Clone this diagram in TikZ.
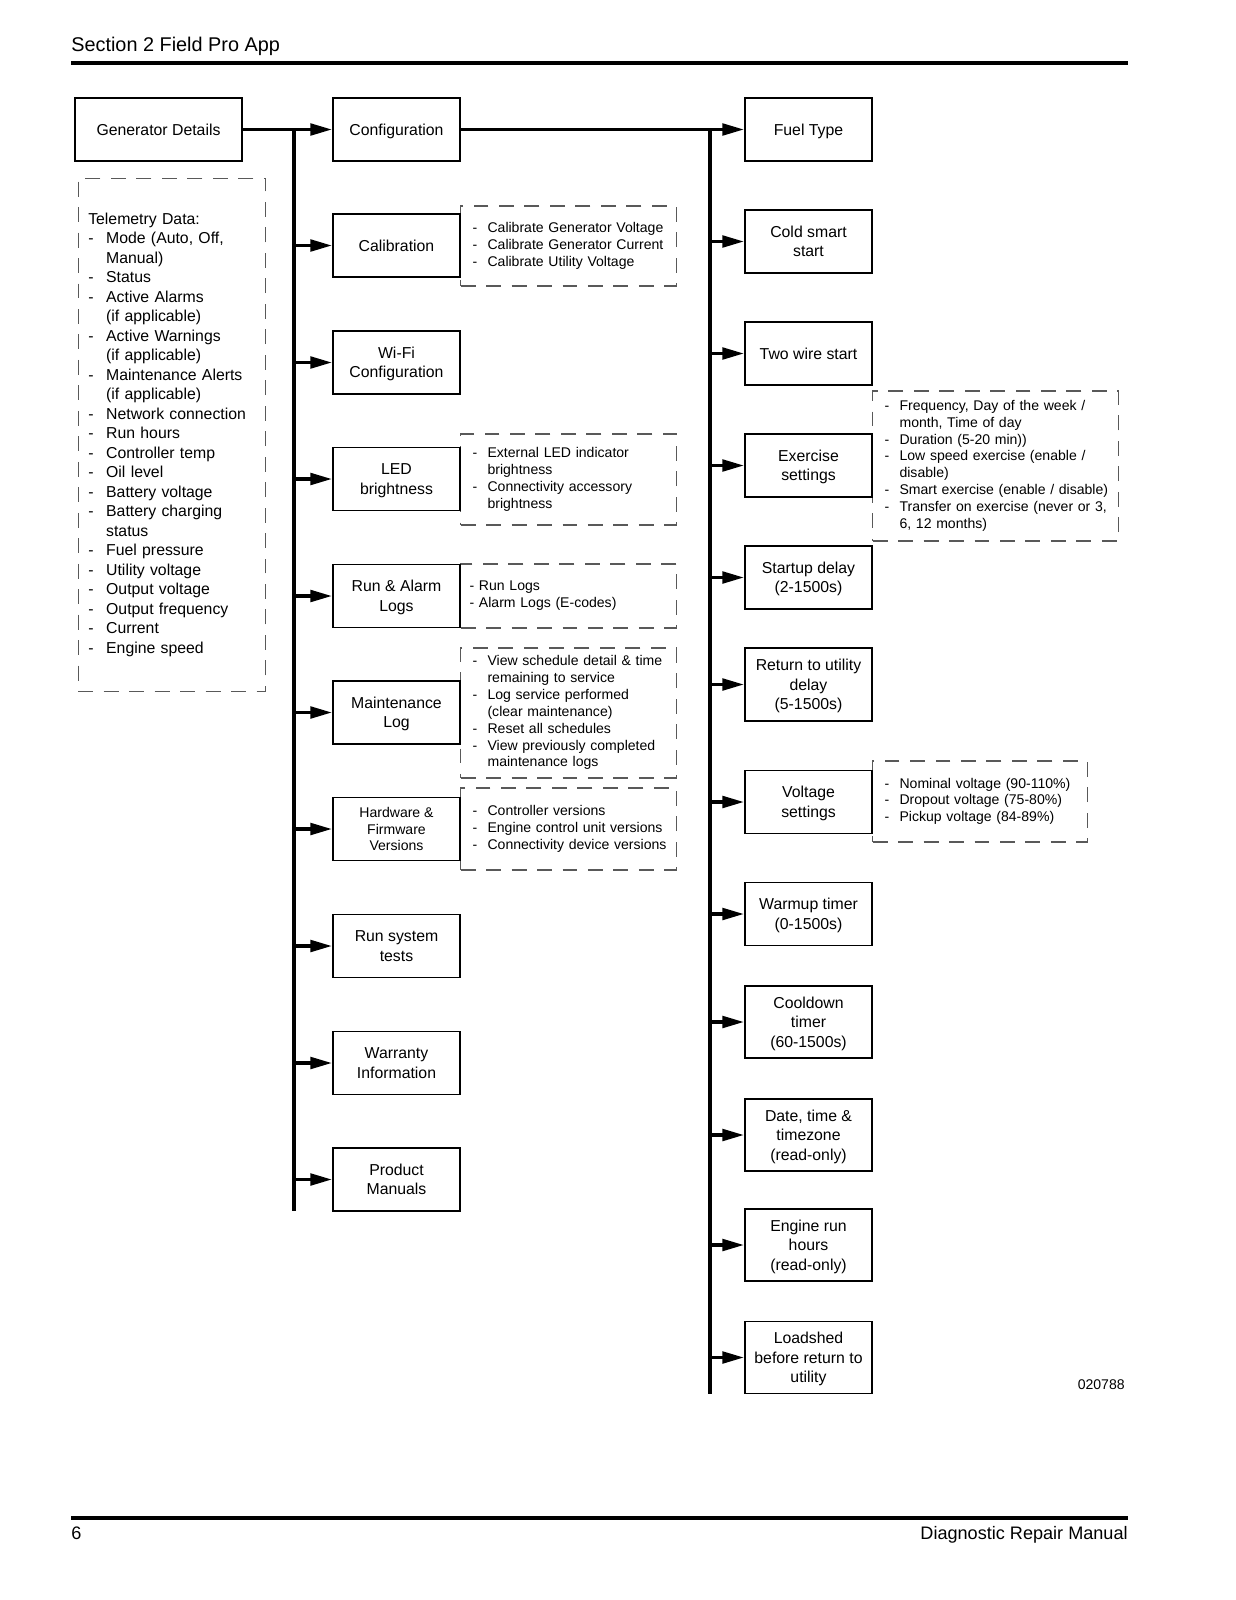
\documentclass[tikz,border=0pt]{standalone}
\usepackage{fontspec}
\setmainfont{Liberation Sans}
\usetikzlibrary{arrows.meta}
\setlength{\parindent}{0pt}
% dashed side notes: dash column plus text column
\newenvironment{dashlist}{\begin{tabular}{@{}p{8.5pt}@{}l@{}}}{\end{tabular}}

\begin{document}
\begin{tikzpicture}[x=0.02cm, y=-0.02cm,
  every node/.style={font=\fontsize{9}{11.1}\selectfont},
  box/.style={rectangle, draw, line width=0.8pt, fill=white, align=center,
    minimum width=2.54cm, minimum height=1.26cm, inner sep=1pt, text depth=0pt},
  tall/.style={minimum height=1.44cm},
  small/.style={font=\fontsize{8}{9.5}\selectfont},
  note/.style={rectangle, draw=black!65, line width=0.7pt, dash pattern=on 8.5pt off 6pt,
    align=left, inner xsep=0.24cm, inner ysep=0pt, font=\fontsize{8}{9.6}\selectfont},
  main/.style={line width=2.2pt},
  stub/.style={line width=2.2pt, -{Triangle[length=12.5pt, width=6.5pt]}},
  rule/.style={line width=1.8pt}]
  \path[use as bounding box, fill=white] (0,0) rectangle (1236,1600);
  % Page header and footer
  \node[anchor=base west, font=\fontsize{11.3}{13}\selectfont, inner sep=0pt] (title) at (71,51) {Section 2 Field Pro App};
  \draw[rule] (71,63) -- (1128,63);
  \draw[rule] (71,1518) -- (1128,1518);
  \node[anchor=base west, font=\fontsize{10.3}{12}\selectfont, inner sep=0pt] (pageno) at (71,1539) {6};
  \node[anchor=base east, font=\fontsize{10.3}{12}\selectfont, inner sep=0pt] (manual) at (1128,1539) {Diagnostic Repair Manual};
  \node[anchor=east, font=\fontsize{8}{9.6}\selectfont, inner sep=0pt] (figno) at (1125,1385) {020788};

  % Dashed notes (drawn first so the boxes sit on top of them)
  \node[note, font=\fontsize{9}{11.1}\selectfont, inner xsep=0.2cm, text width=3.35cm, minimum height=10.27cm] (telem) at (172,435)
    {\begin{tabular}{@{}p{10.2pt}@{}l@{}}
      \multicolumn{2}{@{}l@{}}{Telemetry Data:}\\
      - & Mode (Auto, Off,\\ & Manual)\\
      - & Status\\
      - & Active Alarms\\ & (if applicable)\\
      - & Active Warnings\\ & (if applicable)\\
      - & Maintenance Alerts\\ & (if applicable)\\
      - & Network connection\\
      - & Run hours\\
      - & Controller temp\\
      - & Oil level\\
      - & Battery voltage\\
      - & Battery charging\\ & status\\
      - & Fuel pressure\\
      - & Utility voltage\\
      - & Output voltage\\
      - & Output frequency\\
      - & Current\\
      - & Engine speed
    \end{tabular}};
  \node[note, anchor=west, text width=3.84cm, minimum height=1.6cm] (calnote) at (460,246)
    {\begin{dashlist}
      - & Calibrate Generator Voltage\\
      - & Calibrate Generator Current\\
      - & Calibrate Utility Voltage
    \end{dashlist}};
  \node[note, anchor=west, text width=3.84cm, minimum height=1.82cm] (lednote) at (460,479.5)
    {\begin{dashlist}
      - & External LED indicator\\ & brightness\\
      - & Connectivity accessory\\ & brightness
    \end{dashlist}};
  \node[note, anchor=west, text width=3.84cm, minimum height=1.28cm] (lognote) at (460,596)
    {\kern-1.7pt\begin{tabular}{@{}l@{}}
      - Run Logs\\
      - Alarm Logs (E-codes)
    \end{tabular}};
  \node[note, anchor=west, text width=3.84cm, minimum height=2.6cm] (maintnote) at (460,713)
    {\begin{dashlist}
      - & View schedule detail \& time\\ & remaining to service\\
      - & Log service performed\\ & (clear maintenance)\\
      - & Reset all schedules\\
      - & View previously completed\\ & maintenance logs
    \end{dashlist}};
  \node[note, anchor=west, text width=3.84cm, minimum height=1.64cm] (hwnote) at (460,829)
    {\begin{dashlist}
      - & Controller versions\\
      - & Engine control unit versions\\
      - & Connectivity device versions
    \end{dashlist}};
  \node[note, anchor=west, text width=4.44cm, minimum height=3cm] (exnote) at (872,466)
    {\begin{dashlist}
      - & Frequency, Day of the week /\\ & month, Time of day\\
      - & Duration (5-20 min))\\
      - & Low speed exercise (enable /\\ & disable)\\
      - & Smart exercise (enable / disable)\\
      - & Transfer on exercise (never or 3,\\ & 6, 12 months)
    \end{dashlist}};
  \node[note, anchor=west, text width=3.82cm, minimum height=1.62cm] (voltnote) at (872,801.5)
    {\begin{dashlist}
      - & Nominal voltage (90-110\%)\\
      - & Dropout voltage (75-80\%)\\
      - & Pickup voltage (84-89\%)
    \end{dashlist}};

  % Top level
  \node[box, minimum width=3.34cm] (gen) at (158.5,129.5) {Generator Details};
  % Left column of menu boxes
  \node[box] (cfg)     at (396.5,129.5)  {Configuration};
  \node[box] (cal)     at (396.5,245.5)  {Calibration};
  \node[box] (wifi)    at (396.5,362.5)  {Wi-Fi\\Configuration};
  \node[box] (led)     at (396.5,479)    {LED\\brightness};
  \node[box] (logs)    at (396.5,596)    {Run \& Alarm\\Logs};
  \node[box] (maint)   at (396.5,712.5)  {Maintenance\\Log};
  \node[box, small] (hwfw) at (396.5,829) {Hardware \&\\Firmware\\Versions};
  \node[box] (tests)   at (396.5,946)    {Run system\\tests};
  \node[box] (warr)    at (396.5,1063)   {Warranty\\Information};
  \node[box] (manuals) at (396.5,1179.5) {Product\\Manuals};
  % Right column (configuration items)
  \node[box] (fuel)     at (808.5,129.5)  {Fuel Type};
  \node[box] (cold)     at (808.5,241.5)  {Cold smart\\start};
  \node[box] (twowire)  at (808.5,353.5)  {Two wire start};
  \node[box] (exer)     at (808.5,465.5)  {Exercise\\settings};
  \node[box] (startup)  at (808.5,577.5)  {Startup delay\\(2-1500s)};
  \node[box, minimum height=1.46cm] (retdly) at (808.5,684.5) {Return to utility\\delay\\(5-1500s)};
  \node[box] (volt)     at (808.5,802)    {Voltage\\settings};
  \node[box] (warm)     at (808.5,914)    {Warmup timer\\(0-1500s)};
  \node[box, tall] (cool)     at (808.5,1022)   {Cooldown\\timer\\(60-1500s)};
  \node[box, tall] (datetime) at (808.5,1135)   {Date, time \&\\timezone\\(read-only)};
  \node[box, tall] (runhrs)   at (808.5,1245)   {Engine run\\hours\\(read-only)};
  \node[box, tall] (loadshed) at (808.5,1357.5) {Loadshed\\before return to\\utility};

  % Trunks
  \coordinate (ltop) at (294,129.5);
  \coordinate (lbot) at (294,1211);
  \coordinate (rtop) at (710,129.5);
  \coordinate (rbot) at (710,1394);
  \draw[main] (ltop) -- (lbot);
  \draw[main] (rtop) -- (rbot);
  \draw[stub] (gen.east) -- (cfg.west);
  \draw[stub] (cfg.east) -- (fuel.west);
  % Branches off the left trunk
  \draw[stub] (ltop |- cal.west) -- (cal.west);
  \draw[stub] (ltop |- wifi.west) -- (wifi.west);
  \draw[stub] (ltop |- led.west) -- (led.west);
  \draw[stub] (ltop |- logs.west) -- (logs.west);
  \draw[stub] (ltop |- maint.west) -- (maint.west);
  \draw[stub] (ltop |- hwfw.west) -- (hwfw.west);
  \draw[stub] (ltop |- tests.west) -- (tests.west);
  \draw[stub] (ltop |- warr.west) -- (warr.west);
  \draw[stub] (ltop |- manuals.west) -- (manuals.west);
  % Branches off the right trunk
  \draw[stub] (rtop |- cold.west) -- (cold.west);
  \draw[stub] (rtop |- twowire.west) -- (twowire.west);
  \draw[stub] (rtop |- exer.west) -- (exer.west);
  \draw[stub] (rtop |- startup.west) -- (startup.west);
  \draw[stub] (rtop |- retdly.west) -- (retdly.west);
  \draw[stub] (rtop |- volt.west) -- (volt.west);
  \draw[stub] (rtop |- warm.west) -- (warm.west);
  \draw[stub] (rtop |- cool.west) -- (cool.west);
  \draw[stub] (rtop |- datetime.west) -- (datetime.west);
  \draw[stub] (rtop |- runhrs.west) -- (runhrs.west);
  \draw[stub] (rtop |- loadshed.west) -- (loadshed.west);
\end{tikzpicture}
\end{document}
